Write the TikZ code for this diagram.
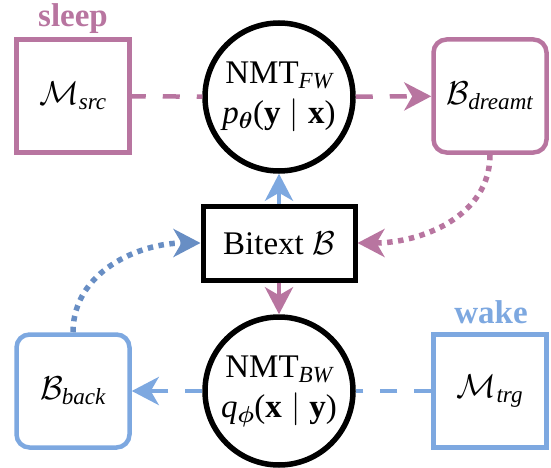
\RequirePackage{fix-cm}
\documentclass[tikz,border=0pt]{standalone}
\usepackage{amsmath}
\usepackage{fontspec}
\setmainfont{Liberation Serif}
\usetikzlibrary{arrows.meta}
\definecolor{sleepc}{RGB}{184,117,160}
\definecolor{wakec}{RGB}{125,168,224}
\definecolor{dotblue}{RGB}{104,142,196}

\begin{document}
\begin{tikzpicture}[x=1pt,y=-1pt,
  every node/.style={font=\fontsize{33}{42}\selectfont, inner sep=0pt},
  memory/.style={draw, line width=4.5pt, minimum size=113pt},
  batch/.style={memory, rounded corners=13pt},
  model/.style={draw=black, circle, line width=5.5pt, minimum size=148pt, align=center},
  bitextbox/.style={draw=black, fill=white, line width=5pt, minimum width=152pt, minimum height=74pt},
  tip/.style={-{Stealth[length=27pt,width=28pt,inset=8pt]}},
  dashline/.style={line width=4.5pt, dash pattern=on 17pt off 17pt},
  dotline/.style={line width=5.5pt, dash pattern=on 5.5pt off 5.5pt},
  phase/.style={font=\fontsize{33}{40}\selectfont\bfseries, anchor=base}
]
\useasboundingbox (0,0) rectangle (551,468);

% sleep phase (top row)
\node[memory, draw=sleepc] (msrc) at (73,96) {$\mathcal{M}_{\textit{src}}$};
\node[model] (fw) at (279,97)
  {NMT$_{\textit{FW}}$\\[-2pt]\textit{p}$_{\boldsymbol{\theta}}$(\textbf{y}\;$|$\;\textbf{x})};
\node[batch, draw=sleepc] (bdream) at (490,96) {$\mathcal{B}_{\textit{dreamt}}$};
\node[phase, text=sleepc] (sleeplbl) at (73,27) {sleep};

% shared bitext
\node[bitextbox] (bitext) at (279,243) {Bitext $\mathcal{B}$};

% wake phase (bottom row)
\node[batch, draw=wakec] (bback) at (73,391) {$\mathcal{B}_{\textit{back}}$};
\node[model] (bw) at (279,391)
  {NMT$_{\textit{BW}}$\\[-2pt]\textit{q}$_{\boldsymbol{\phi}}$(\textbf{x}\;$|$\;\textbf{y})};
\node[memory, draw=wakec] (mtrg) at (490,391) {$\mathcal{M}_{\textit{trg}}$};
\node[phase, text=wakec] (wakelbl) at (491,323) {wake};

% connectors
\draw[sleepc, dashline, dash phase=3pt] (msrc) -- (fw);
\draw[sleepc, dashline, tip] (fw) -- (bdream);
\draw[sleepc, dotline, tip] (bdream.south) to[out=-90,in=0] (bitext.east);
\draw[wakec, line width=4.5pt, tip] (bitext) -- (fw);
\draw[sleepc, line width=4.5pt, tip] (bitext) -- (bw);
\draw[wakec, dashline] (mtrg) -- (bw);
\draw[wakec, dashline, tip] (bw) -- (bback);
\draw[dotblue, dotline, tip] (bback.north) to[out=90,in=180] (bitext.west);
\end{tikzpicture}
\end{document}
